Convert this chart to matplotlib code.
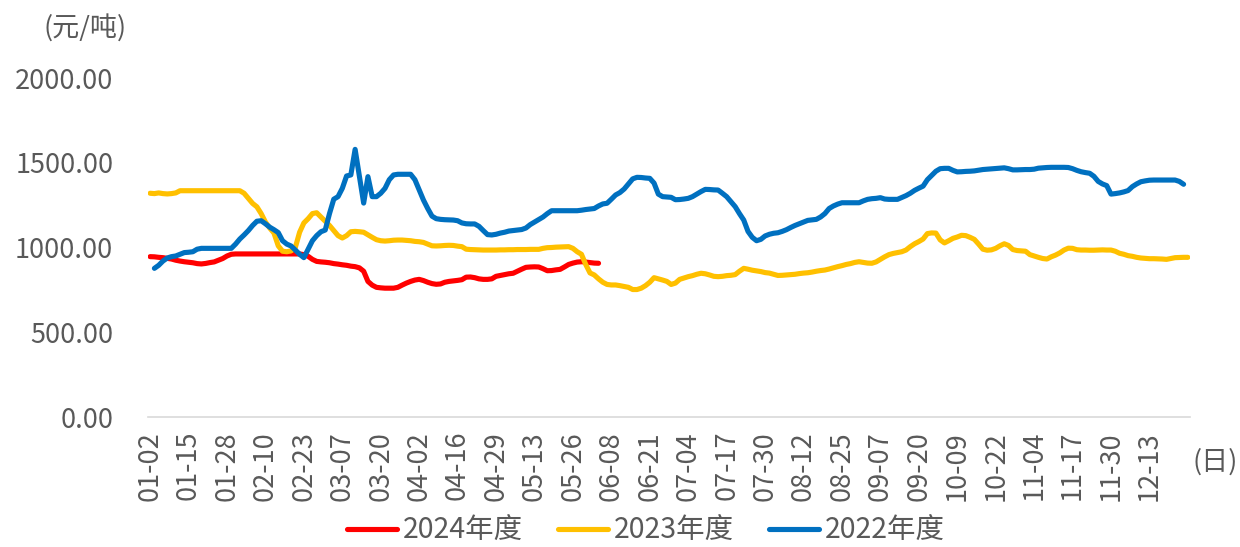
import numpy as np
import matplotlib
matplotlib.use("Agg")
import matplotlib.pyplot as plt

plt.rcParams['font.family'] = ['Noto Sans CJK SC', 'DejaVu Sans']

# ---------------- data ----------------
tick_labels = ["01-02", "01-15", "01-28", "02-10", "02-23", "03-07", "03-20", "04-02",
               "04-16", "04-29", "05-13", "05-26", "06-08", "06-21", "07-04", "07-17",
               "07-30", "08-12", "08-25", "09-07", "09-20", "10-09", "10-22", "11-04",
               "11-17", "11-30", "12-13"]
n_days = 244
tick_every = 9

series_names = ["2024年度", "2023年度", "2022年度"]
series_colors = ["#FF0000", "#FFC000", "#0070C0"]

price_2024 = [946, 945, 942, 940, 936, 932, 925, 920, 916, 913, 910, 905, 903, 906, 911, 915,
              925, 935, 950, 960, 962, 962, 962, 962, 962, 962, 962, 962, 962, 962, 962, 962,
              962, 962, 962, 962, 958, 948, 930, 918, 915, 913, 910, 905, 902, 898, 895, 890,
              887, 880, 860, 800, 778, 765, 762, 760, 760, 760, 765, 778, 790, 800, 808, 812,
              805, 795, 787, 783, 785, 795, 800, 803, 806, 810, 825, 826, 822, 815, 812, 812,
              815, 830, 835, 840, 845, 848, 860, 872, 883, 885, 886, 885, 875, 863, 864, 868,
              871, 885, 900, 908, 914, 916, 914, 911, 908, 907]

price_2023 = [1320, 1318, 1322, 1318, 1316, 1318, 1322, 1335, 1335, 1335, 1335, 1335, 1335, 1335,
              1335, 1335, 1335, 1335, 1335, 1335, 1335, 1335, 1320, 1290, 1260, 1240, 1200, 1150,
              1115, 1085, 1010, 978, 975, 980, 1000, 1090, 1145, 1170, 1200, 1205, 1180, 1155,
              1130, 1100, 1070, 1056, 1070, 1093, 1095, 1093, 1090, 1075, 1060, 1046, 1040, 1038,
              1040, 1043, 1044, 1044, 1042, 1040, 1036, 1034, 1030, 1020, 1010, 1009, 1010, 1012,
              1013, 1012, 1008, 1005, 990, 988, 987, 986, 985, 985, 985, 985, 986, 986, 987, 987,
              988, 988, 988, 989, 989, 989, 995, 999, 1000, 1002, 1003, 1004, 1005, 995, 975, 960,
              900, 850, 838, 815, 795, 782, 779, 779, 775, 770, 765, 752, 752, 760, 775, 795, 822,
              815, 808, 800, 782, 790, 812, 820, 828, 834, 842, 848, 845, 838, 830, 828, 830, 834,
              836, 840, 860, 877, 872, 866, 862, 858, 852, 849, 842, 835, 836, 838, 840, 842,
              846, 849, 851, 855, 860, 864, 867, 873, 880, 887, 893, 900, 905, 912, 916, 912, 908,
              907, 915, 930, 945, 958, 965, 970, 975, 985, 1005, 1022, 1035, 1050, 1082, 1086,
              1085, 1045, 1027, 1040, 1054, 1062, 1072, 1070, 1060, 1048, 1020, 990, 984, 986,
              995, 1010, 1022, 1012, 988, 982, 980, 978, 958, 950, 942, 935, 932, 945, 955, 968,
              985, 996, 995, 987, 985, 985, 984, 984, 985, 986, 985, 985, 978, 966, 960, 952, 948,
              942, 938, 936, 934, 934, 933, 932, 930, 935, 940, 941, 942, 942]

price_2022 = [np.nan, 877, 895, 920, 938, 946, 950, 960, 970, 972, 975, 990, 995, 995, 995, 995,
              995, 995, 995, 995, 1020, 1050, 1074, 1100, 1130, 1155, 1158, 1140, 1120, 1105,
              1088, 1040, 1020, 1009, 985, 960, 940, 990, 1040, 1070, 1093, 1103, 1200, 1285,
              1300, 1349, 1422, 1428, 1579, 1420, 1262, 1418, 1300, 1300, 1320, 1349, 1400, 1428,
              1432, 1432, 1432, 1432, 1400, 1340, 1280, 1230, 1185, 1170, 1166, 1164, 1163, 1162,
              1158, 1145, 1140, 1139, 1139, 1125, 1100, 1076, 1074, 1078, 1085, 1090, 1097, 1100,
              1103, 1106, 1115, 1135, 1150, 1165, 1180, 1200, 1217, 1217, 1217, 1217, 1217, 1217,
              1217, 1220, 1224, 1227, 1230, 1245, 1257, 1261, 1285, 1310, 1324, 1345, 1375, 1405,
              1414, 1413, 1410, 1408, 1380, 1315, 1300, 1298, 1296, 1282, 1283, 1286, 1290, 1300,
              1315, 1330, 1343, 1342, 1340, 1339, 1320, 1300, 1270, 1241, 1200, 1162, 1095, 1060,
              1040, 1048, 1068, 1078, 1084, 1087, 1095, 1105, 1118, 1130, 1140, 1150, 1160, 1163,
              1166, 1180, 1200, 1230, 1245, 1256, 1264, 1264, 1264, 1264, 1264, 1275, 1284, 1288,
              1290, 1294, 1286, 1284, 1284, 1284, 1295, 1306, 1320, 1337, 1350, 1362, 1400, 1425,
              1450, 1465, 1467, 1467, 1455, 1446, 1447, 1449, 1450, 1452, 1456, 1460, 1462, 1464,
              1466, 1468, 1470, 1465, 1458, 1458, 1459, 1460, 1460, 1462, 1468, 1470, 1472, 1473,
              1473, 1473, 1473, 1472, 1465, 1455, 1447, 1442, 1438, 1420, 1390, 1375, 1365, 1315,
              1318, 1322, 1328, 1336, 1359, 1375, 1388, 1393, 1397, 1398, 1398, 1398, 1398, 1398,
              1398, 1390, 1373]

y_ticks = [0, 500, 1000, 1500, 2000]

# ---------------- plot ----------------
W, H = 1240, 547
fig = plt.figure(figsize=(W / 100, H / 100), dpi=100)
ax = fig.add_axes([148 / W, (H - 417) / H, 1042 / W, (417 - 78) / H])

text_color = "#595959"
fs = 19.5

def pad(arr):
    a = np.full(n_days, np.nan)
    a[:len(arr)] = arr
    return a

x = np.arange(n_days)
for name, color, vals in zip(series_names, series_colors, [price_2024, price_2023, price_2022]):
    ax.plot(x, pad(vals), color=color, lw=3.7, label=name,
            solid_capstyle="round", solid_joinstyle="round")

ax.set_xlim(-0.5, n_days - 0.5)
ax.set_ylim(0, 2000)
ax.set_yticks(y_ticks)
ax.set_yticklabels([f"{v:.2f}" for v in y_ticks])
tick_pos = np.arange(len(tick_labels)) * tick_every
ax.set_xticks(tick_pos)
ax.set_xticklabels(tick_labels, rotation=90)

for s in ["top", "right", "left"]:
    ax.spines[s].set_visible(False)
ax.spines["bottom"].set_color("#D9D9D9")
ax.spines["bottom"].set_linewidth(1.2)
ax.tick_params(axis="both", length=0, colors=text_color, labelsize=fs)
ax.tick_params(axis="y", pad=25)
ax.tick_params(axis="x", pad=10)

fig.text(85 / W, 1 - 28 / H, "(元/吨)", ha="center", va="center", fontsize=fs, color=text_color)
fig.text(1215 / W, 1 - 462 / H, "(日)", ha="center", va="center", fontsize=fs, color=text_color)

leg = fig.legend(loc="center", bbox_to_anchor=(646 / W, 1 - 531 / H), ncol=3, frameon=False,
                 fontsize=20.5, handlelength=1.75, handletextpad=0.2, columnspacing=1.25,
                 labelcolor=text_color, borderpad=0.1)

fig.savefig("out.png", dpi=100)
